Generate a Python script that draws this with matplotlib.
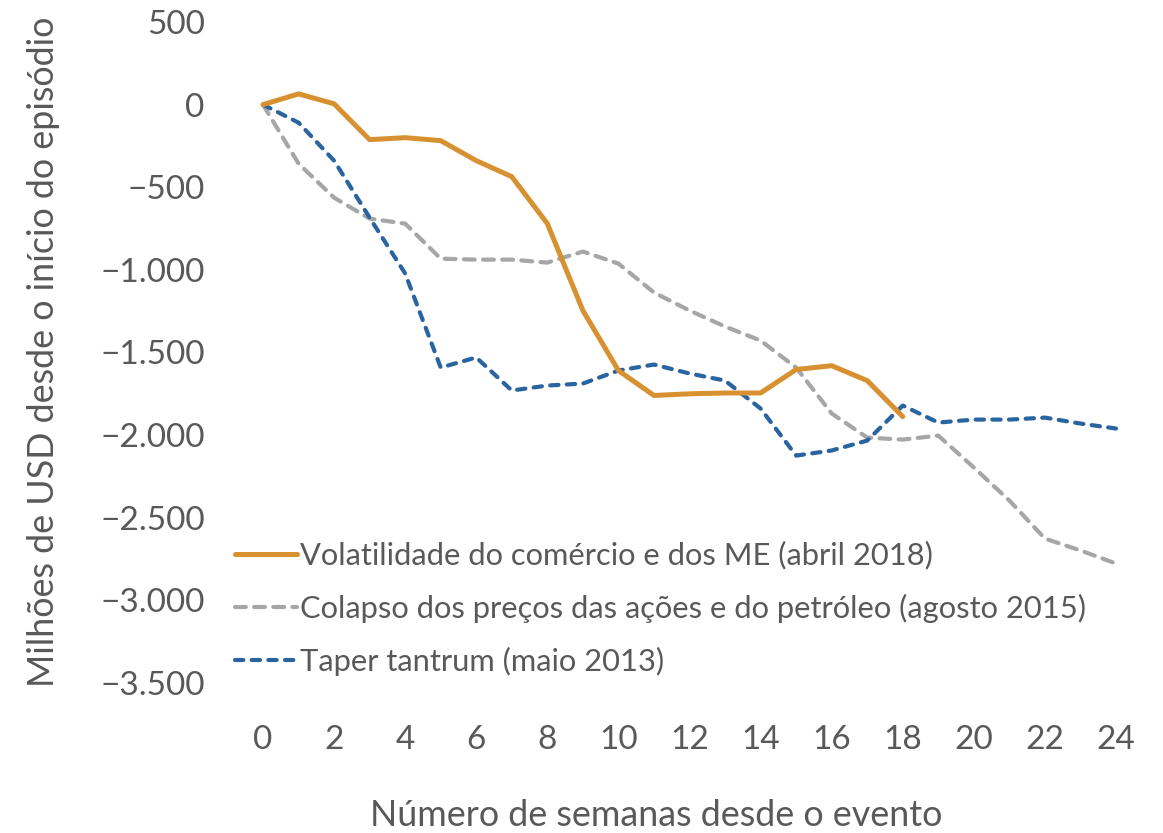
import numpy as np
import matplotlib.pyplot as plt

plt.rcParams['font.family'] = ['Lato', 'DejaVu Sans']

# weeks since the event
weeks_vol = list(range(0, 19))
weeks_long = list(range(0, 25))

# millions of USD since start of episode
volatilidade = [0, 65, 5, -212, -200, -218, -339, -436, -720, -1246, -1609,
                -1760, -1750, -1745, -1745, -1603, -1580, -1670, -1888]
colapso = [0, -357, -563, -690, -720, -932, -938, -938, -956, -889, -962,
           -1137, -1246, -1343, -1428, -1591, -1869, -2015, -2027, -2003,
           -2196, -2396, -2626, -2698, -2777]
taper = [0, -109, -339, -684, -1022, -1591, -1530, -1730, -1700, -1688, -1609,
         -1573, -1627, -1670, -1839, -2124, -2093, -2033, -1821, -1924,
         -1906, -1906, -1894, -1930, -1960]

labels = ['Volatilidade do comércio e dos ME (abril 2018)',
          'Colapso dos preços das ações e do petróleo (agosto 2015)',
          'Taper tantrum (maio 2013)']

xticks = list(range(0, 25, 2))
yticks = [500, 0, -500, -1000, -1500, -2000, -2500, -3000, -3500]
ytick_labels = ['500', '0', '\u2212500', '\u22121.000', '\u22121.500',
                '\u22122.000', '\u22122.500', '\u22123.000', '\u22123.500']

txt = '#595959'
fs_tick = 24
fs = 22.2
fs_lab = 25.8

fig = plt.figure(figsize=(11.63, 8.33), dpi=100)
ax = fig.add_axes([263/1163, 1 - 683/833, (1116 - 263)/1163, (683 - 22)/833])

ax.plot(weeks_vol, volatilidade, color='#D89130', lw=3.6, label=labels[0],
        solid_capstyle='round', clip_on=False, zorder=3)
ax.plot(weeks_long, colapso, color='#A6A6A6', lw=3, label=labels[1],
        dashes=(2.6, 2.0), dash_capstyle='round', clip_on=False, zorder=2)
ax.plot(weeks_long, taper, color='#2A64A0', lw=3, label=labels[2],
        dashes=(2.0, 2.0), dash_capstyle='round', clip_on=False, zorder=2)

ax.set_xlim(0, 24)
ax.set_ylim(-3500, 500)
ax.set_xticks(xticks)
ax.set_xticklabels([str(t) for t in xticks])
ax.set_yticks(yticks)
ax.set_yticklabels(ytick_labels)
ax.tick_params(axis='both', length=0, labelsize=fs_tick, labelcolor=txt)
ax.tick_params(axis='y', pad=42)
ax.tick_params(axis='x', pad=30)
for s in ax.spines.values():
    s.set_visible(False)

ax.set_xlabel('Número de semanas desde o evento', fontsize=fs_lab, color=txt,
              va='center')
ax.xaxis.set_label_coords((656 - 263) / 853, (683 - 815) / 661)
ax.set_ylabel('Milhões de USD desde o início do episódio', fontsize=fs_lab,
              color=txt, va='center')
ax.yaxis.set_label_coords((43 - 263) / 853, (683 - 352) / 661)

leg = ax.legend(loc='lower left', bbox_to_anchor=(-0.047, -0.008),
                frameon=False, fontsize=fs, handlelength=2.0,
                handletextpad=0.1, labelspacing=0.78, borderaxespad=0)
for t in leg.get_texts():
    t.set_color(txt)

fig.savefig('out.png', dpi=100)
